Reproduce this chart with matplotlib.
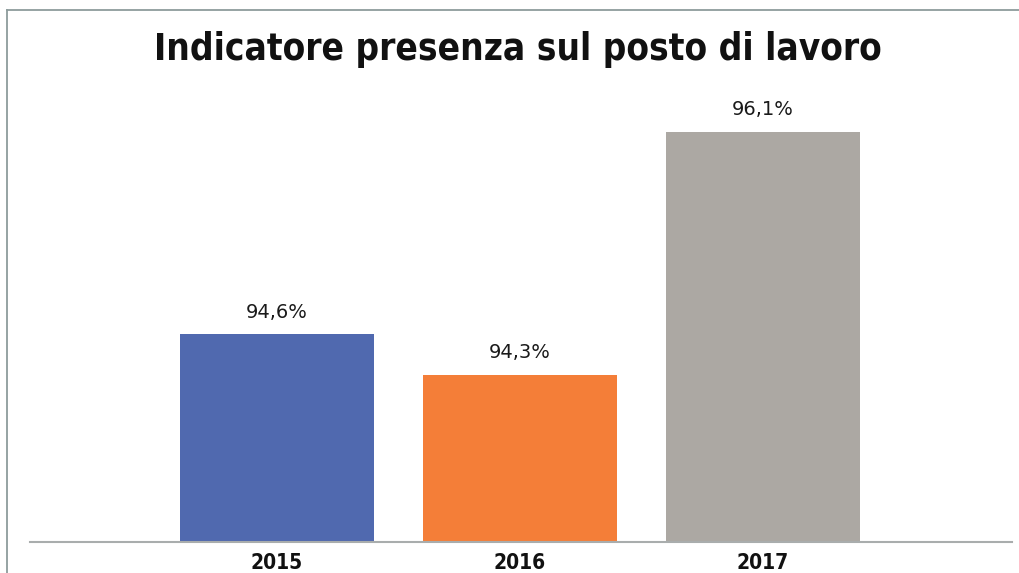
import matplotlib
matplotlib.use("Agg")
import matplotlib.pyplot as plt
from matplotlib.lines import Line2D

title = "Indicatore presenza sul posto di lavoro"
years = ["2015", "2016", "2017"]
values = [94.6, 94.3, 96.1]
labels = ["94,6%", "94,3%", "96,1%"]
colors = ["#5069AF", "#F47E38", "#ACA8A3"]

W, H = 1020, 573
fig = plt.figure(figsize=(W / 100, H / 100), dpi=100)
fig.patch.set_facecolor("white")

def fx(px):
    return px / W

def fy(py):
    return 1 - py / H

# frame lines
fig.add_artist(Line2D([fx(7), 1], [fy(10), fy(10)], color="#8E9C9C", lw=1.3))
fig.add_artist(Line2D([fx(7), fx(7)], [fy(10), 0], color="#8E9C9C", lw=1.3))

ax_left, ax_right = 30, 1012
ax_top, ax_bot = 101, 542
ax = fig.add_axes([fx(ax_left), fy(ax_bot), fx(ax_right - ax_left), (ax_bot - ax_top) / H])

x = range(len(years))
ax.bar(x, values, width=0.8, color=colors, zorder=2)
ymin = 93.06
ymax = ymin + (ax_bot - ax_top) / 135.0
ax.set_ylim(ymin, ymax)
sp = 243.0
ax.set_xlim((ax_left - 277) / sp, (ax_right - 277) / sp)

for xi, v, lab in zip(x, values, labels):
    ax.annotate(lab, (xi, v), xytext=(0, 9), textcoords="offset points",
                ha="center", va="bottom", fontsize=14, color="#1a1a1a",
                family="DejaVu Sans")

for s in ["top", "right", "left"]:
    ax.spines[s].set_visible(False)
ax.spines["bottom"].set_color("#A9ADAD")
ax.spines["bottom"].set_linewidth(1.5)
ax.set_yticks([])
ax.set_xticks(list(x))
ax.set_xticklabels(years, fontsize=15, fontweight="bold", family="DejaVu Sans",
                   fontstretch="condensed", color="#111111")
ax.tick_params(axis="x", length=0, pad=8)
ax.set_facecolor("none")

fig.text(0.508, fy(50), title, ha="center", va="center", fontsize=26.5,
         fontweight="bold", family="DejaVu Sans", fontstretch="condensed", color="#111111")

fig.savefig("out.png", dpi=100, facecolor="white")
